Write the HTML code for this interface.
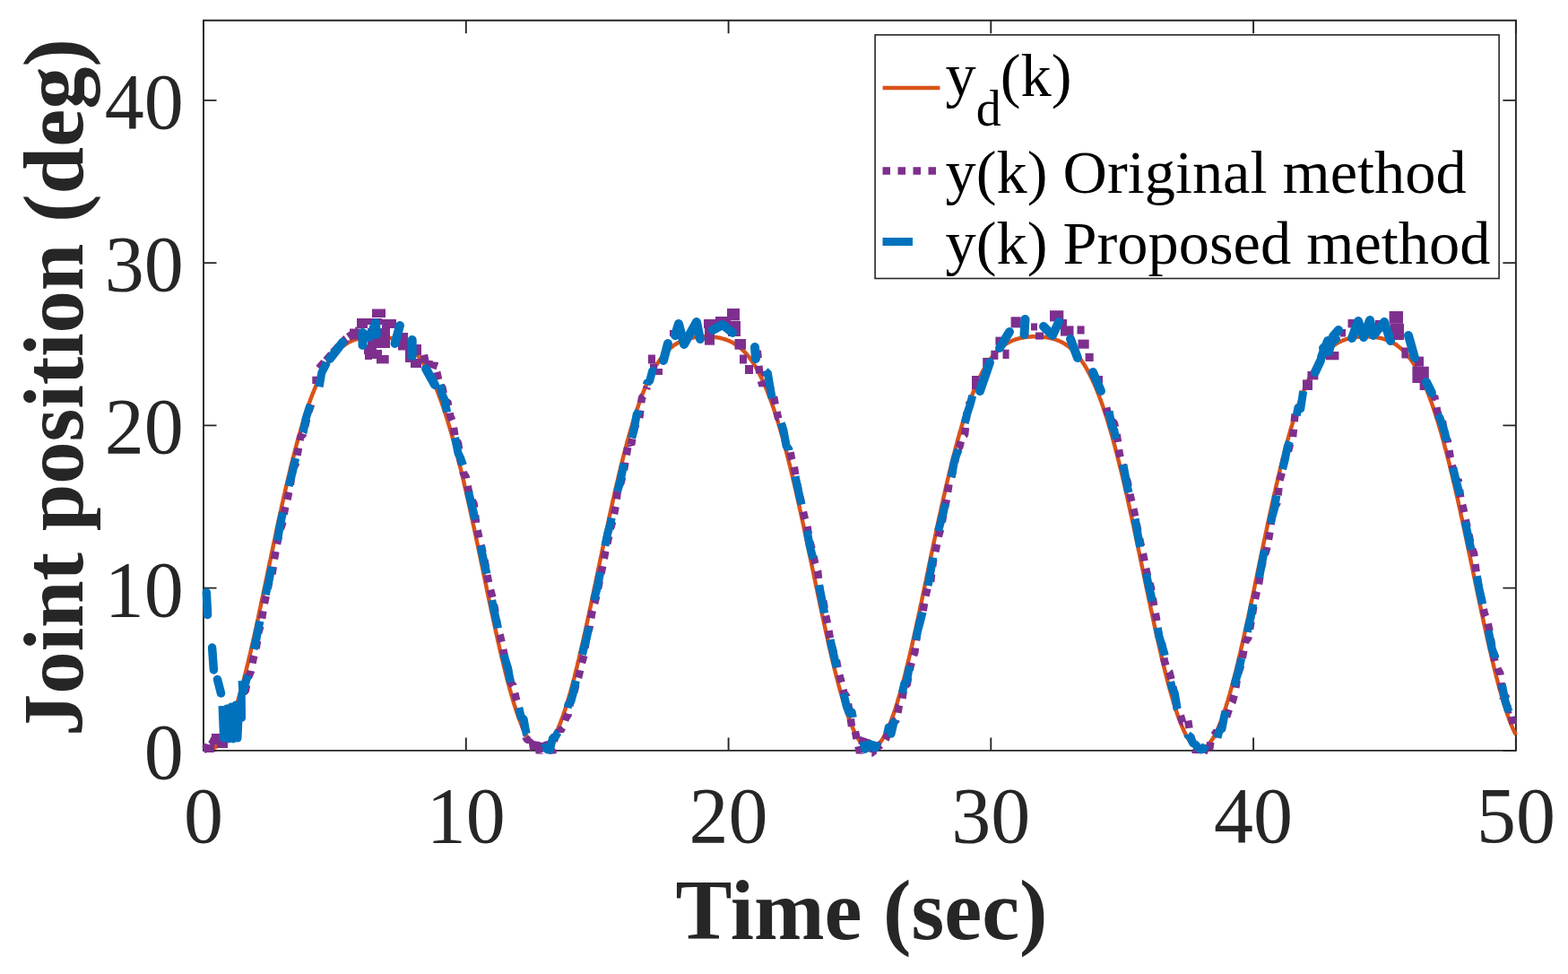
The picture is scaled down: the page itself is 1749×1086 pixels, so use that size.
<!DOCTYPE html>
<html><head><meta charset="utf-8"><title>Joint position plot</title>
<style>html,body{margin:0;padding:0;background:#fff;overflow:hidden}svg{display:block}</style></head>
<body><svg width="1749" height="1086" viewBox="0 0 1749 1086" font-family="'Liberation Serif', 'Times New Roman', serif"><rect x="0" y="0" width="1749" height="1086" fill="#fff"/>
<path d="M227.0,836.9 L1690.9,836.9 L1690.9,22.7 L227.0,22.7 Z" fill="none" stroke="#262626" stroke-width="1.9"/>
<path d="M227.0,836.9 L227.0,822.4 M227.0,22.7 L227.0,37.2 M519.8,836.9 L519.8,822.4 M519.8,22.7 L519.8,37.2 M812.6,836.9 L812.6,822.4 M812.6,22.7 L812.6,37.2 M1105.3,836.9 L1105.3,822.4 M1105.3,22.7 L1105.3,37.2 M1398.1,836.9 L1398.1,822.4 M1398.1,22.7 L1398.1,37.2 M1690.9,836.9 L1690.9,822.4 M1690.9,22.7 L1690.9,37.2 M227.0,836.9 L241.5,836.9 M1690.9,836.9 L1676.4,836.9 M227.0,655.6 L241.5,655.6 M1690.9,655.6 L1676.4,655.6 M227.0,474.4 L241.5,474.4 M1690.9,474.4 L1676.4,474.4 M227.0,293.1 L241.5,293.1 M1690.9,293.1 L1676.4,293.1 M227.0,111.9 L241.5,111.9 M1690.9,111.9 L1676.4,111.9" fill="none" stroke="#262626" stroke-width="1.9"/>
<path d="M227.0,831.2 L227.7,831.9 L228.5,832.4 L229.2,833.0 L229.9,833.4 L230.7,833.8 L231.4,834.2 L232.1,834.5 L232.9,834.7 L233.6,834.8 L234.3,834.9 L235.1,834.9 L235.8,834.8 L236.5,834.7 L237.2,834.6 L238.0,834.3 L238.7,834.0 L239.4,833.6 L240.2,833.2 L240.9,832.7 L241.6,832.1 L242.4,831.5 L243.1,830.8 L243.8,830.0 L244.6,829.2 L245.3,828.3 L246.0,827.4 L246.8,826.4 L247.5,825.3 L248.2,824.1 L249.0,823.0 L249.7,821.7 L250.4,820.4 L251.2,819.0 L251.9,817.6 L252.6,816.1 L253.4,814.5 L254.1,812.9 L254.8,811.3 L255.5,809.5 L256.3,807.7 L257.0,805.9 L257.7,804.0 L258.5,802.1 L259.2,800.1 L259.9,798.0 L260.7,795.9 L261.4,793.8 L262.1,791.6 L262.9,789.3 L263.6,787.0 L264.3,784.7 L265.1,782.3 L265.8,779.9 L266.5,777.4 L267.3,774.8 L268.0,772.3 L268.7,769.6 L269.5,767.0 L270.2,764.3 L270.9,761.5 L271.6,758.8 L272.4,755.9 L273.1,753.1 L273.8,750.2 L274.6,747.3 L275.3,744.3 L276.0,741.3 L276.8,738.3 L277.5,735.2 L278.2,732.1 L279.0,729.0 L279.7,725.9 L280.4,722.7 L281.2,719.5 L281.9,716.3 L282.6,713.0 L283.4,709.7 L284.1,706.4 L284.8,703.1 L285.6,699.8 L286.3,696.4 L287.0,693.1 L287.8,689.7 L288.5,686.3 L289.2,682.8 L289.9,679.4 L290.7,676.0 L291.4,672.5 L292.1,669.0 L292.9,665.6 L293.6,662.1 L294.3,658.6 L295.1,655.1 L295.8,651.6 L296.5,648.1 L297.3,644.6 L298.0,641.0 L298.7,637.5 L299.5,634.0 L300.2,630.5 L300.9,627.0 L301.7,623.5 L302.4,620.0 L303.1,616.5 L303.9,613.0 L304.6,609.5 L305.3,606.0 L306.1,602.5 L306.8,599.1 L307.5,595.6 L308.2,592.2 L309.0,588.7 L309.7,585.3 L310.4,581.9 L311.2,578.5 L311.9,575.1 L312.6,571.8 L313.4,568.5 L314.1,565.1 L314.8,561.8 L315.6,558.5 L316.3,555.3 L317.0,552.0 L317.8,548.8 L318.5,545.6 L319.2,542.4 L320.0,539.3 L320.7,536.2 L321.4,533.1 L322.2,530.0 L322.9,526.9 L323.6,523.9 L324.3,520.9 L325.1,517.9 L325.8,515.0 L326.5,512.1 L327.3,509.2 L328.0,506.4 L328.7,503.5 L329.5,500.7 L330.2,498.0 L330.9,495.2 L331.7,492.5 L332.4,489.9 L333.1,487.2 L333.9,484.6 L334.6,482.1 L335.3,479.5 L336.1,477.0 L336.8,474.6 L337.5,472.1 L338.3,469.7 L339.0,467.4 L339.7,465.0 L340.5,462.7 L341.2,460.5 L341.9,458.2 L342.6,456.1 L343.4,453.9 L344.1,451.8 L344.8,449.7 L345.6,447.6 L346.3,445.6 L347.0,443.6 L347.8,441.7 L348.5,439.8 L349.2,437.9 L350.0,436.1 L350.7,434.3 L351.4,432.5 L352.2,430.8 L352.9,429.1 L353.6,427.4 L354.4,425.8 L355.1,424.2 L355.8,422.6 L356.6,421.1 L357.3,419.6 L358.0,418.1 L358.8,416.7 L359.5,415.3 L360.2,413.9 L360.9,412.6 L361.7,411.3 L362.4,410.0 L363.1,408.7 L363.9,407.5 L364.6,406.4 L365.3,405.2 L366.1,404.1 L366.8,403.0 L367.5,401.9 L368.3,400.9 L369.0,399.9 L369.7,398.9 L370.5,398.0 L371.2,397.1 L371.9,396.2 L372.7,395.3 L373.4,394.4 L374.1,393.6 L374.9,392.8 L375.6,392.1 L376.3,391.3 L377.0,390.6 L377.8,389.9 L378.5,389.2 L379.2,388.6 L380.0,387.9 L380.7,387.3 L381.4,386.7 L382.2,386.2 L382.9,385.6 L383.6,385.1 L384.4,384.6 L385.1,384.1 L385.8,383.6 L386.6,383.2 L387.3,382.7 L388.0,382.3 L388.8,381.9 L389.5,381.5 L390.2,381.2 L391.0,380.8 L391.7,380.5 L392.4,380.1 L393.2,379.8 L393.9,379.5 L394.6,379.2 L395.3,379.0 L396.1,378.7 L396.8,378.5 L397.5,378.2 L398.3,378.0 L399.0,377.8 L399.7,377.6 L400.5,377.4 L401.2,377.2 L401.9,377.0 L402.7,376.9 L403.4,376.7 L404.1,376.6 L404.9,376.4 L405.6,376.3 L406.3,376.2 L407.1,376.1 L407.8,376.0 L408.5,375.9 L409.3,375.8 L410.0,375.7 L410.7,375.6 L411.5,375.5 L412.2,375.5 L412.9,375.4 L413.6,375.4 L414.4,375.3 L415.1,375.3 L415.8,375.3 L416.6,375.3 L417.3,375.2 L418.0,375.2 L418.8,375.2 L419.5,375.2 L420.2,375.2 L421.0,375.3 L421.7,375.3 L422.4,375.3 L423.2,375.3 L423.9,375.4 L424.6,375.4 L425.4,375.5 L426.1,375.5 L426.8,375.6 L427.6,375.7 L428.3,375.7 L429.0,375.8 L429.8,375.9 L430.5,376.0 L431.2,376.1 L431.9,376.3 L432.7,376.4 L433.4,376.5 L434.1,376.7 L434.9,376.8 L435.6,377.0 L436.3,377.1 L437.1,377.3 L437.8,377.5 L438.5,377.7 L439.3,377.9 L440.0,378.2 L440.7,378.4 L441.5,378.6 L442.2,378.9 L442.9,379.2 L443.7,379.4 L444.4,379.7 L445.1,380.1 L445.9,380.4 L446.6,380.7 L447.3,381.1 L448.0,381.4 L448.8,381.8 L449.5,382.2 L450.2,382.6 L451.0,383.1 L451.7,383.5 L452.4,384.0 L453.2,384.5 L453.9,385.0 L454.6,385.5 L455.4,386.0 L456.1,386.6 L456.8,387.2 L457.6,387.8 L458.3,388.4 L459.0,389.1 L459.8,389.7 L460.5,390.4 L461.2,391.1 L462.0,391.9 L462.7,392.6 L463.4,393.4 L464.2,394.2 L464.9,395.1 L465.6,395.9 L466.3,396.8 L467.1,397.7 L467.8,398.7 L468.5,399.7 L469.3,400.6 L470.0,401.7 L470.7,402.7 L471.5,403.8 L472.2,404.9 L472.9,406.1 L473.7,407.2 L474.4,408.4 L475.1,409.7 L475.9,410.9 L476.6,412.2 L477.3,413.6 L478.1,414.9 L478.8,416.3 L479.5,417.7 L480.3,419.2 L481.0,420.7 L481.7,422.2 L482.5,423.8 L483.2,425.3 L483.9,427.0 L484.6,428.6 L485.4,430.3 L486.1,432.1 L486.8,433.8 L487.6,435.6 L488.3,437.4 L489.0,439.3 L489.8,441.2 L490.5,443.1 L491.2,445.1 L492.0,447.1 L492.7,449.2 L493.4,451.2 L494.2,453.4 L494.9,455.5 L495.6,457.7 L496.4,459.9 L497.1,462.2 L497.8,464.5 L498.6,466.8 L499.3,469.1 L500.0,471.5 L500.7,474.0 L501.5,476.4 L502.2,478.9 L502.9,481.4 L503.7,484.0 L504.4,486.6 L505.1,489.2 L505.9,491.9 L506.6,494.6 L507.3,497.3 L508.1,500.0 L508.8,502.8 L509.5,505.6 L510.3,508.5 L511.0,511.4 L511.7,514.3 L512.5,517.2 L513.2,520.2 L513.9,523.2 L514.7,526.2 L515.4,529.2 L516.1,532.3 L516.9,535.4 L517.6,538.5 L518.3,541.7 L519.0,544.8 L519.8,548.0 L520.5,551.2 L521.2,554.5 L522.0,557.7 L522.7,561.0 L523.4,564.3 L524.2,567.6 L524.9,571.0 L525.6,574.3 L526.4,577.7 L527.1,581.1 L527.8,584.5 L528.6,587.9 L529.3,591.3 L530.0,594.7 L530.8,598.2 L531.5,601.7 L532.2,605.1 L533.0,608.6 L533.7,612.1 L534.4,615.6 L535.2,619.1 L535.9,622.6 L536.6,626.1 L537.3,629.6 L538.1,633.1 L538.8,636.6 L539.5,640.2 L540.3,643.7 L541.0,647.2 L541.7,650.7 L542.5,654.2 L543.2,657.7 L543.9,661.2 L544.7,664.7 L545.4,668.2 L546.1,671.6 L546.9,675.1 L547.6,678.5 L548.3,682.0 L549.1,685.4 L549.8,688.8 L550.5,692.2 L551.3,695.6 L552.0,699.0 L552.7,702.3 L553.4,705.6 L554.2,708.9 L554.9,712.2 L555.6,715.5 L556.4,718.7 L557.1,721.9 L557.8,725.1 L558.6,728.2 L559.3,731.4 L560.0,734.5 L560.8,737.5 L561.5,740.6 L562.2,743.6 L563.0,746.5 L563.7,749.5 L564.4,752.4 L565.2,755.2 L565.9,758.1 L566.6,760.8 L567.4,763.6 L568.1,766.3 L568.8,769.0 L569.6,771.6 L570.3,774.2 L571.0,776.7 L571.7,779.2 L572.5,781.7 L573.2,784.1 L573.9,786.5 L574.7,788.8 L575.4,791.0 L576.1,793.2 L576.9,795.4 L577.6,797.5 L578.3,799.6 L579.1,801.6 L579.8,803.5 L580.5,805.4 L581.3,807.3 L582.0,809.1 L582.7,810.8 L583.5,812.5 L584.2,814.1 L584.9,815.7 L585.7,817.2 L586.4,818.7 L587.1,820.0 L587.9,821.4 L588.6,822.6 L589.3,823.9 L590.0,825.0 L590.8,826.1 L591.5,827.1 L592.2,828.1 L593.0,829.0 L593.7,829.8 L594.4,830.6 L595.2,831.3 L595.9,832.0 L596.6,832.5 L597.4,833.1 L598.1,833.5 L598.8,833.9 L599.6,834.2 L600.3,834.5 L601.0,834.7 L601.8,834.8 L602.5,834.9 L603.2,834.9 L604.0,834.8 L604.7,834.7 L605.4,834.5 L606.2,834.3 L606.9,833.9 L607.6,833.6 L608.3,833.1 L609.1,832.6 L609.8,832.0 L610.5,831.4 L611.3,830.7 L612.0,829.9 L612.7,829.1 L613.5,828.2 L614.2,827.2 L614.9,826.2 L615.7,825.1 L616.4,824.0 L617.1,822.7 L617.9,821.5 L618.6,820.2 L619.3,818.8 L620.1,817.3 L620.8,815.8 L621.5,814.3 L622.3,812.6 L623.0,811.0 L623.7,809.2 L624.4,807.5 L625.2,805.6 L625.9,803.7 L626.6,801.8 L627.4,799.8 L628.1,797.7 L628.8,795.6 L629.6,793.4 L630.3,791.2 L631.0,789.0 L631.8,786.7 L632.5,784.3 L633.2,781.9 L634.0,779.4 L634.7,777.0 L635.4,774.4 L636.2,771.8 L636.9,769.2 L637.6,766.5 L638.4,763.8 L639.1,761.1 L639.8,758.3 L640.6,755.5 L641.3,752.6 L642.0,749.7 L642.7,746.8 L643.5,743.8 L644.2,740.8 L644.9,737.8 L645.7,734.7 L646.4,731.6 L647.1,728.5 L647.9,725.3 L648.6,722.2 L649.3,719.0 L650.1,715.7 L650.8,712.5 L651.5,709.2 L652.3,705.9 L653.0,702.6 L653.7,699.2 L654.5,695.9 L655.2,692.5 L655.9,689.1 L656.7,685.7 L657.4,682.3 L658.1,678.8 L658.9,675.4 L659.6,671.9 L660.3,668.5 L661.0,665.0 L661.8,661.5 L662.5,658.0 L663.2,654.5 L664.0,651.0 L664.7,647.5 L665.4,644.0 L666.2,640.5 L666.9,636.9 L667.6,633.4 L668.4,629.9 L669.1,626.4 L669.8,622.9 L670.6,619.4 L671.3,615.9 L672.0,612.4 L672.8,608.9 L673.5,605.4 L674.2,601.9 L675.0,598.5 L675.7,595.0 L676.4,591.6 L677.1,588.2 L677.9,584.8 L678.6,581.4 L679.3,578.0 L680.1,574.6 L680.8,571.2 L681.5,567.9 L682.3,564.6 L683.0,561.3 L683.7,558.0 L684.5,554.7 L685.2,551.5 L685.9,548.3 L686.7,545.1 L687.4,541.9 L688.1,538.8 L688.9,535.7 L689.6,532.6 L690.3,529.5 L691.1,526.4 L691.8,523.4 L692.5,520.4 L693.3,517.5 L694.0,514.5 L694.7,511.6 L695.4,508.7 L696.2,505.9 L696.9,503.1 L697.6,500.3 L698.4,497.5 L699.1,494.8 L699.8,492.1 L700.6,489.4 L701.3,486.8 L702.0,484.2 L702.8,481.6 L703.5,479.1 L704.2,476.6 L705.0,474.2 L705.7,471.7 L706.4,469.3 L707.2,467.0 L707.9,464.6 L708.6,462.4 L709.4,460.1 L710.1,457.9 L710.8,455.7 L711.6,453.5 L712.3,451.4 L713.0,449.3 L713.7,447.3 L714.5,445.3 L715.2,443.3 L715.9,441.4 L716.7,439.5 L717.4,437.6 L718.1,435.8 L718.9,434.0 L719.6,432.2 L720.3,430.5 L721.1,428.8 L721.8,427.1 L722.5,425.5 L723.3,423.9 L724.0,422.3 L724.7,420.8 L725.5,419.3 L726.2,417.9 L726.9,416.4 L727.7,415.0 L728.4,413.7 L729.1,412.3 L729.8,411.0 L730.6,409.8 L731.3,408.5 L732.0,407.3 L732.8,406.2 L733.5,405.0 L734.2,403.9 L735.0,402.8 L735.7,401.8 L736.4,400.7 L737.2,399.7 L737.9,398.8 L738.6,397.8 L739.4,396.9 L740.1,396.0 L740.8,395.1 L741.6,394.3 L742.3,393.5 L743.0,392.7 L743.8,391.9 L744.5,391.2 L745.2,390.5 L746.0,389.8 L746.7,389.1 L747.4,388.5 L748.1,387.8 L748.9,387.2 L749.6,386.7 L750.3,386.1 L751.1,385.5 L751.8,385.0 L752.5,384.5 L753.3,384.0 L754.0,383.6 L754.7,383.1 L755.5,382.7 L756.2,382.3 L756.9,381.9 L757.7,381.5 L758.4,381.1 L759.1,380.7 L759.9,380.4 L760.6,380.1 L761.3,379.8 L762.1,379.5 L762.8,379.2 L763.5,378.9 L764.3,378.7 L765.0,378.4 L765.7,378.2 L766.4,378.0 L767.2,377.7 L767.9,377.5 L768.6,377.3 L769.4,377.2 L770.1,377.0 L770.8,376.8 L771.6,376.7 L772.3,376.5 L773.0,376.4 L773.8,376.3 L774.5,376.2 L775.2,376.0 L776.0,375.9 L776.7,375.8 L777.4,375.8 L778.2,375.7 L778.9,375.6 L779.6,375.5 L780.4,375.5 L781.1,375.4 L781.8,375.4 L782.6,375.3 L783.3,375.3 L784.0,375.3 L784.7,375.3 L785.5,375.2 L786.2,375.2 L786.9,375.2 L787.7,375.2 L788.4,375.2 L789.1,375.3 L789.9,375.3 L790.6,375.3 L791.3,375.3 L792.1,375.4 L792.8,375.4 L793.5,375.5 L794.3,375.5 L795.0,375.6 L795.7,375.7 L796.5,375.8 L797.2,375.9 L797.9,375.9 L798.7,376.1 L799.4,376.2 L800.1,376.3 L800.8,376.4 L801.6,376.5 L802.3,376.7 L803.0,376.8 L803.8,377.0 L804.5,377.2 L805.2,377.4 L806.0,377.6 L806.7,377.8 L807.4,378.0 L808.2,378.2 L808.9,378.4 L809.6,378.7 L810.4,378.9 L811.1,379.2 L811.8,379.5 L812.6,379.8 L813.3,380.1 L814.0,380.4 L814.8,380.8 L815.5,381.1 L816.2,381.5 L817.0,381.9 L817.7,382.3 L818.4,382.7 L819.1,383.1 L819.9,383.6 L820.6,384.1 L821.3,384.6 L822.1,385.1 L822.8,385.6 L823.5,386.1 L824.3,386.7 L825.0,387.3 L825.7,387.9 L826.5,388.5 L827.2,389.2 L827.9,389.8 L828.7,390.5 L829.4,391.3 L830.1,392.0 L830.9,392.8 L831.6,393.6 L832.3,394.4 L833.1,395.2 L833.8,396.1 L834.5,397.0 L835.3,397.9 L836.0,398.8 L836.7,399.8 L837.4,400.8 L838.2,401.8 L838.9,402.9 L839.6,404.0 L840.4,405.1 L841.1,406.3 L841.8,407.4 L842.6,408.6 L843.3,409.9 L844.0,411.1 L844.8,412.4 L845.5,413.8 L846.2,415.1 L847.0,416.5 L847.7,418.0 L848.4,419.4 L849.2,420.9 L849.9,422.5 L850.6,424.0 L851.4,425.6 L852.1,427.2 L852.8,428.9 L853.5,430.6 L854.3,432.3 L855.0,434.1 L855.7,435.9 L856.5,437.7 L857.2,439.6 L857.9,441.5 L858.7,443.5 L859.4,445.4 L860.1,447.5 L860.9,449.5 L861.6,451.6 L862.3,453.7 L863.1,455.9 L863.8,458.1 L864.5,460.3 L865.3,462.5 L866.0,464.8 L866.7,467.2 L867.5,469.5 L868.2,471.9 L868.9,474.4 L869.7,476.8 L870.4,479.3 L871.1,481.9 L871.8,484.4 L872.6,487.0 L873.3,489.6 L874.0,492.3 L874.8,495.0 L875.5,497.7 L876.2,500.5 L877.0,503.3 L877.7,506.1 L878.4,509.0 L879.2,511.8 L879.9,514.8 L880.6,517.7 L881.4,520.7 L882.1,523.7 L882.8,526.7 L883.6,529.7 L884.3,532.8 L885.0,535.9 L885.8,539.0 L886.5,542.2 L887.2,545.3 L888.0,548.5 L888.7,551.8 L889.4,555.0 L890.1,558.3 L890.9,561.5 L891.6,564.8 L892.3,568.2 L893.1,571.5 L893.8,574.9 L894.5,578.2 L895.3,581.6 L896.0,585.0 L896.7,588.4 L897.5,591.9 L898.2,595.3 L898.9,598.8 L899.7,602.2 L900.4,605.7 L901.1,609.2 L901.9,612.7 L902.6,616.2 L903.3,619.7 L904.1,623.2 L904.8,626.7 L905.5,630.2 L906.2,633.7 L907.0,637.2 L907.7,640.7 L908.4,644.3 L909.2,647.8 L909.9,651.3 L910.6,654.8 L911.4,658.3 L912.1,661.8 L912.8,665.3 L913.6,668.7 L914.3,672.2 L915.0,675.7 L915.8,679.1 L916.5,682.6 L917.2,686.0 L918.0,689.4 L918.7,692.8 L919.4,696.1 L920.2,699.5 L920.9,702.8 L921.6,706.2 L922.4,709.5 L923.1,712.7 L923.8,716.0 L924.5,719.2 L925.3,722.4 L926.0,725.6 L926.7,728.7 L927.5,731.9 L928.2,735.0 L928.9,738.0 L929.7,741.0 L930.4,744.0 L931.1,747.0 L931.9,749.9 L932.6,752.8 L933.3,755.7 L934.1,758.5 L934.8,761.3 L935.5,764.0 L936.3,766.8 L937.0,769.4 L937.7,772.0 L938.5,774.6 L939.2,777.2 L939.9,779.6 L940.7,782.1 L941.4,784.5 L942.1,786.8 L942.8,789.1 L943.6,791.4 L944.3,793.6 L945.0,795.8 L945.8,797.9 L946.5,799.9 L947.2,801.9 L948.0,803.9 L948.7,805.8 L949.4,807.6 L950.2,809.4 L950.9,811.1 L951.6,812.8 L952.4,814.4 L953.1,815.9 L953.8,817.4 L954.6,818.9 L955.3,820.3 L956.0,821.6 L956.8,822.8 L957.5,824.0 L958.2,825.2 L959.0,826.3 L959.7,827.3 L960.4,828.2 L961.1,829.1 L961.9,830.0 L962.6,830.7 L963.3,831.4 L964.1,832.1 L964.8,832.6 L965.5,833.1 L966.3,833.6 L967.0,834.0 L967.7,834.3 L968.5,834.5 L969.2,834.7 L969.9,834.8 L970.7,834.9 L971.4,834.9 L972.1,834.8 L972.9,834.7 L973.6,834.5 L974.3,834.2 L975.1,833.9 L975.8,833.5 L976.5,833.0 L977.2,832.5 L978.0,831.9 L978.7,831.3 L979.4,830.5 L980.2,829.8 L980.9,828.9 L981.6,828.0 L982.4,827.0 L983.1,826.0 L983.8,824.9 L984.6,823.8 L985.3,822.5 L986.0,821.3 L986.8,819.9 L987.5,818.5 L988.2,817.1 L989.0,815.6 L989.7,814.0 L990.4,812.4 L991.2,810.7 L991.9,808.9 L992.6,807.2 L993.4,805.3 L994.1,803.4 L994.8,801.4 L995.5,799.4 L996.3,797.4 L997.0,795.2 L997.7,793.1 L998.5,790.9 L999.2,788.6 L999.9,786.3 L1000.7,783.9 L1001.4,781.5 L1002.1,779.0 L1002.9,776.5 L1003.6,774.0 L1004.3,771.4 L1005.1,768.8 L1005.8,766.1 L1006.5,763.4 L1007.3,760.6 L1008.0,757.8 L1008.7,755.0 L1009.5,752.1 L1010.2,749.2 L1010.9,746.3 L1011.7,743.3 L1012.4,740.3 L1013.1,737.3 L1013.8,734.2 L1014.6,731.1 L1015.3,728.0 L1016.0,724.8 L1016.8,721.6 L1017.5,718.4 L1018.2,715.2 L1019.0,711.9 L1019.7,708.7 L1020.4,705.4 L1021.2,702.0 L1021.9,698.7 L1022.6,695.3 L1023.4,691.9 L1024.1,688.6 L1024.8,685.1 L1025.6,681.7 L1026.3,678.3 L1027.0,674.8 L1027.8,671.4 L1028.5,667.9 L1029.2,664.4 L1029.9,660.9 L1030.7,657.4 L1031.4,653.9 L1032.1,650.4 L1032.9,646.9 L1033.6,643.4 L1034.3,639.9 L1035.1,636.4 L1035.8,632.8 L1036.5,629.3 L1037.3,625.8 L1038.0,622.3 L1038.7,618.8 L1039.5,615.3 L1040.2,611.8 L1040.9,608.3 L1041.7,604.8 L1042.4,601.4 L1043.1,597.9 L1043.9,594.5 L1044.6,591.0 L1045.3,587.6 L1046.1,584.2 L1046.8,580.8 L1047.5,577.4 L1048.2,574.0 L1049.0,570.7 L1049.7,567.4 L1050.4,564.0 L1051.2,560.7 L1051.9,557.5 L1052.6,554.2 L1053.4,551.0 L1054.1,547.8 L1054.8,544.6 L1055.6,541.4 L1056.3,538.3 L1057.0,535.1 L1057.8,532.0 L1058.5,529.0 L1059.2,525.9 L1060.0,522.9 L1060.7,519.9 L1061.4,517.0 L1062.2,514.0 L1062.9,511.1 L1063.6,508.3 L1064.4,505.4 L1065.1,502.6 L1065.8,499.8 L1066.5,497.1 L1067.3,494.3 L1068.0,491.7 L1068.7,489.0 L1069.5,486.4 L1070.2,483.8 L1070.9,481.2 L1071.7,478.7 L1072.4,476.2 L1073.1,473.8 L1073.9,471.3 L1074.6,468.9 L1075.3,466.6 L1076.1,464.3 L1076.8,462.0 L1077.5,459.7 L1078.3,457.5 L1079.0,455.3 L1079.7,453.2 L1080.5,451.1 L1081.2,449.0 L1081.9,447.0 L1082.6,445.0 L1083.4,443.0 L1084.1,441.1 L1084.8,439.2 L1085.6,437.3 L1086.3,435.5 L1087.0,433.7 L1087.8,431.9 L1088.5,430.2 L1089.2,428.5 L1090.0,426.8 L1090.7,425.2 L1091.4,423.6 L1092.2,422.1 L1092.9,420.6 L1093.6,419.1 L1094.4,417.6 L1095.1,416.2 L1095.8,414.8 L1096.6,413.5 L1097.3,412.1 L1098.0,410.8 L1098.8,409.6 L1099.5,408.3 L1100.2,407.1 L1100.9,406.0 L1101.7,404.8 L1102.4,403.7 L1103.1,402.6 L1103.9,401.6 L1104.6,400.6 L1105.3,399.6 L1106.1,398.6 L1106.8,397.7 L1107.5,396.8 L1108.3,395.9 L1109.0,395.0 L1109.7,394.2 L1110.5,393.4 L1111.2,392.6 L1111.9,391.8 L1112.7,391.1 L1113.4,390.4 L1114.1,389.7 L1114.9,389.0 L1115.6,388.4 L1116.3,387.7 L1117.1,387.1 L1117.8,386.6 L1118.5,386.0 L1119.2,385.5 L1120.0,384.9 L1120.7,384.4 L1121.4,383.9 L1122.2,383.5 L1122.9,383.0 L1123.6,382.6 L1124.4,382.2 L1125.1,381.8 L1125.8,381.4 L1126.6,381.0 L1127.3,380.7 L1128.0,380.4 L1128.8,380.0 L1129.5,379.7 L1130.2,379.4 L1131.0,379.1 L1131.7,378.9 L1132.4,378.6 L1133.2,378.4 L1133.9,378.1 L1134.6,377.9 L1135.3,377.7 L1136.1,377.5 L1136.8,377.3 L1137.5,377.1 L1138.3,377.0 L1139.0,376.8 L1139.7,376.7 L1140.5,376.5 L1141.2,376.4 L1141.9,376.3 L1142.7,376.1 L1143.4,376.0 L1144.1,375.9 L1144.9,375.8 L1145.6,375.7 L1146.3,375.7 L1147.1,375.6 L1147.8,375.5 L1148.5,375.5 L1149.3,375.4 L1150.0,375.4 L1150.7,375.3 L1151.5,375.3 L1152.2,375.3 L1152.9,375.3 L1153.6,375.2 L1154.4,375.2 L1155.1,375.2 L1155.8,375.2 L1156.6,375.2 L1157.3,375.3 L1158.0,375.3 L1158.8,375.3 L1159.5,375.3 L1160.2,375.4 L1161.0,375.4 L1161.7,375.5 L1162.4,375.6 L1163.2,375.6 L1163.9,375.7 L1164.6,375.8 L1165.4,375.9 L1166.1,376.0 L1166.8,376.1 L1167.6,376.2 L1168.3,376.3 L1169.0,376.4 L1169.8,376.6 L1170.5,376.7 L1171.2,376.9 L1171.9,377.0 L1172.7,377.2 L1173.4,377.4 L1174.1,377.6 L1174.9,377.8 L1175.6,378.0 L1176.3,378.2 L1177.1,378.5 L1177.8,378.7 L1178.5,379.0 L1179.3,379.3 L1180.0,379.5 L1180.7,379.8 L1181.5,380.2 L1182.2,380.5 L1182.9,380.8 L1183.7,381.2 L1184.4,381.6 L1185.1,381.9 L1185.9,382.4 L1186.6,382.8 L1187.3,383.2 L1188.1,383.7 L1188.8,384.1 L1189.5,384.6 L1190.2,385.1 L1191.0,385.7 L1191.7,386.2 L1192.4,386.8 L1193.2,387.4 L1193.9,388.0 L1194.6,388.6 L1195.4,389.3 L1196.1,390.0 L1196.8,390.7 L1197.6,391.4 L1198.3,392.1 L1199.0,392.9 L1199.8,393.7 L1200.5,394.5 L1201.2,395.4 L1202.0,396.2 L1202.7,397.1 L1203.4,398.0 L1204.2,399.0 L1204.9,400.0 L1205.6,401.0 L1206.3,402.0 L1207.1,403.1 L1207.8,404.2 L1208.5,405.3 L1209.3,406.4 L1210.0,407.6 L1210.7,408.8 L1211.5,410.1 L1212.2,411.4 L1212.9,412.7 L1213.7,414.0 L1214.4,415.4 L1215.1,416.8 L1215.9,418.2 L1216.6,419.7 L1217.3,421.2 L1218.1,422.7 L1218.8,424.3 L1219.5,425.9 L1220.3,427.5 L1221.0,429.2 L1221.7,430.9 L1222.5,432.6 L1223.2,434.4 L1223.9,436.2 L1224.6,438.1 L1225.4,439.9 L1226.1,441.8 L1226.8,443.8 L1227.6,445.8 L1228.3,447.8 L1229.0,449.9 L1229.8,451.9 L1230.5,454.1 L1231.2,456.2 L1232.0,458.4 L1232.7,460.6 L1233.4,462.9 L1234.2,465.2 L1234.9,467.5 L1235.6,469.9 L1236.4,472.3 L1237.1,474.8 L1237.8,477.2 L1238.6,479.7 L1239.3,482.3 L1240.0,484.8 L1240.8,487.4 L1241.5,490.1 L1242.2,492.8 L1242.9,495.5 L1243.7,498.2 L1244.4,501.0 L1245.1,503.7 L1245.9,506.6 L1246.6,509.4 L1247.3,512.3 L1248.1,515.2 L1248.8,518.2 L1249.5,521.1 L1250.3,524.1 L1251.0,527.2 L1251.7,530.2 L1252.5,533.3 L1253.2,536.4 L1253.9,539.5 L1254.7,542.7 L1255.4,545.9 L1256.1,549.1 L1256.9,552.3 L1257.6,555.5 L1258.3,558.8 L1259.0,562.1 L1259.8,565.4 L1260.5,568.7 L1261.2,572.1 L1262.0,575.4 L1262.7,578.8 L1263.4,582.2 L1264.2,585.6 L1264.9,589.0 L1265.6,592.4 L1266.4,595.9 L1267.1,599.3 L1267.8,602.8 L1268.6,606.3 L1269.3,609.7 L1270.0,613.2 L1270.8,616.7 L1271.5,620.2 L1272.2,623.7 L1273.0,627.3 L1273.7,630.8 L1274.4,634.3 L1275.2,637.8 L1275.9,641.3 L1276.6,644.8 L1277.3,648.3 L1278.1,651.8 L1278.8,655.4 L1279.5,658.9 L1280.3,662.3 L1281.0,665.8 L1281.7,669.3 L1282.5,672.8 L1283.2,676.2 L1283.9,679.7 L1284.7,683.1 L1285.4,686.5 L1286.1,689.9 L1286.9,693.3 L1287.6,696.7 L1288.3,700.1 L1289.1,703.4 L1289.8,706.7 L1290.5,710.0 L1291.3,713.3 L1292.0,716.5 L1292.7,719.7 L1293.5,722.9 L1294.2,726.1 L1294.9,729.3 L1295.6,732.4 L1296.4,735.5 L1297.1,738.5 L1297.8,741.5 L1298.6,744.5 L1299.3,747.5 L1300.0,750.4 L1300.8,753.3 L1301.5,756.2 L1302.2,759.0 L1303.0,761.8 L1303.7,764.5 L1304.4,767.2 L1305.2,769.9 L1305.9,772.5 L1306.6,775.0 L1307.4,777.6 L1308.1,780.0 L1308.8,782.5 L1309.6,784.9 L1310.3,787.2 L1311.0,789.5 L1311.7,791.8 L1312.5,794.0 L1313.2,796.1 L1313.9,798.2 L1314.7,800.2 L1315.4,802.2 L1316.1,804.2 L1316.9,806.1 L1317.6,807.9 L1318.3,809.7 L1319.1,811.4 L1319.8,813.0 L1320.5,814.7 L1321.3,816.2 L1322.0,817.7 L1322.7,819.1 L1323.5,820.5 L1324.2,821.8 L1324.9,823.0 L1325.7,824.2 L1326.4,825.4 L1327.1,826.4 L1327.9,827.4 L1328.6,828.4 L1329.3,829.3 L1330.0,830.1 L1330.8,830.8 L1331.5,831.5 L1332.2,832.2 L1333.0,832.7 L1333.7,833.2 L1334.4,833.7 L1335.2,834.0 L1335.9,834.3 L1336.6,834.6 L1337.4,834.7 L1338.1,834.9 L1338.8,834.9 L1339.6,834.9 L1340.3,834.8 L1341.0,834.7 L1341.8,834.4 L1342.5,834.2 L1343.2,833.8 L1344.0,833.4 L1344.7,832.9 L1345.4,832.4 L1346.2,831.8 L1346.9,831.1 L1347.6,830.4 L1348.3,829.6 L1349.1,828.8 L1349.8,827.9 L1350.5,826.9 L1351.3,825.8 L1352.0,824.7 L1352.7,823.6 L1353.5,822.3 L1354.2,821.1 L1354.9,819.7 L1355.7,818.3 L1356.4,816.8 L1357.1,815.3 L1357.9,813.7 L1358.6,812.1 L1359.3,810.4 L1360.1,808.7 L1360.8,806.9 L1361.5,805.0 L1362.3,803.1 L1363.0,801.1 L1363.7,799.1 L1364.5,797.0 L1365.2,794.9 L1365.9,792.7 L1366.6,790.5 L1367.4,788.2 L1368.1,785.9 L1368.8,783.5 L1369.6,781.1 L1370.3,778.6 L1371.0,776.1 L1371.8,773.6 L1372.5,771.0 L1373.2,768.3 L1374.0,765.7 L1374.7,762.9 L1375.4,760.2 L1376.2,757.4 L1376.9,754.5 L1377.6,751.7 L1378.4,748.8 L1379.1,745.8 L1379.8,742.8 L1380.6,739.8 L1381.3,736.8 L1382.0,733.7 L1382.7,730.6 L1383.5,727.5 L1384.2,724.3 L1384.9,721.1 L1385.7,717.9 L1386.4,714.7 L1387.1,711.4 L1387.9,708.1 L1388.6,704.8 L1389.3,701.5 L1390.1,698.1 L1390.8,694.8 L1391.5,691.4 L1392.3,688.0 L1393.0,684.6 L1393.7,681.2 L1394.5,677.7 L1395.2,674.3 L1395.9,670.8 L1396.7,667.3 L1397.4,663.8 L1398.1,660.4 L1398.9,656.9 L1399.6,653.4 L1400.3,649.8 L1401.0,646.3 L1401.8,642.8 L1402.5,639.3 L1403.2,635.8 L1404.0,632.3 L1404.7,628.8 L1405.4,625.2 L1406.2,621.7 L1406.9,618.2 L1407.6,614.7 L1408.4,611.2 L1409.1,607.8 L1409.8,604.3 L1410.6,600.8 L1411.3,597.4 L1412.0,593.9 L1412.8,590.5 L1413.5,587.0 L1414.2,583.6 L1415.0,580.2 L1415.7,576.9 L1416.4,573.5 L1417.2,570.1 L1417.9,566.8 L1418.6,563.5 L1419.3,560.2 L1420.1,556.9 L1420.8,553.7 L1421.5,550.4 L1422.3,547.2 L1423.0,544.1 L1423.7,540.9 L1424.5,537.7 L1425.2,534.6 L1425.9,531.5 L1426.7,528.5 L1427.4,525.4 L1428.1,522.4 L1428.9,519.4 L1429.6,516.5 L1430.3,513.6 L1431.1,510.7 L1431.8,507.8 L1432.5,505.0 L1433.3,502.1 L1434.0,499.4 L1434.7,496.6 L1435.4,493.9 L1436.2,491.2 L1436.9,488.6 L1437.6,486.0 L1438.4,483.4 L1439.1,480.8 L1439.8,478.3 L1440.6,475.8 L1441.3,473.4 L1442.0,470.9 L1442.8,468.6 L1443.5,466.2 L1444.2,463.9 L1445.0,461.6 L1445.7,459.4 L1446.4,457.2 L1447.2,455.0 L1447.9,452.8 L1448.6,450.7 L1449.4,448.7 L1450.1,446.6 L1450.8,444.6 L1451.6,442.7 L1452.3,440.7 L1453.0,438.9 L1453.7,437.0 L1454.5,435.2 L1455.2,433.4 L1455.9,431.6 L1456.7,429.9 L1457.4,428.2 L1458.1,426.6 L1458.9,425.0 L1459.6,423.4 L1460.3,421.8 L1461.1,420.3 L1461.8,418.8 L1462.5,417.4 L1463.3,416.0 L1464.0,414.6 L1464.7,413.2 L1465.5,411.9 L1466.2,410.6 L1466.9,409.4 L1467.7,408.1 L1468.4,406.9 L1469.1,405.8 L1469.9,404.6 L1470.6,403.5 L1471.3,402.5 L1472.0,401.4 L1472.8,400.4 L1473.5,399.4 L1474.2,398.4 L1475.0,397.5 L1475.7,396.6 L1476.4,395.7 L1477.2,394.9 L1477.9,394.0 L1478.6,393.2 L1479.4,392.5 L1480.1,391.7 L1480.8,391.0 L1481.6,390.3 L1482.3,389.6 L1483.0,388.9 L1483.8,388.3 L1484.5,387.6 L1485.2,387.0 L1486.0,386.5 L1486.7,385.9 L1487.4,385.4 L1488.1,384.8 L1488.9,384.4 L1489.6,383.9 L1490.3,383.4 L1491.1,383.0 L1491.8,382.5 L1492.5,382.1 L1493.3,381.7 L1494.0,381.3 L1494.7,381.0 L1495.5,380.6 L1496.2,380.3 L1496.9,380.0 L1497.7,379.7 L1498.4,379.4 L1499.1,379.1 L1499.9,378.8 L1500.6,378.6 L1501.3,378.3 L1502.1,378.1 L1502.8,377.9 L1503.5,377.7 L1504.3,377.5 L1505.0,377.3 L1505.7,377.1 L1506.4,376.9 L1507.2,376.8 L1507.9,376.6 L1508.6,376.5 L1509.4,376.4 L1510.1,376.2 L1510.8,376.1 L1511.6,376.0 L1512.3,375.9 L1513.0,375.8 L1513.8,375.7 L1514.5,375.7 L1515.2,375.6 L1516.0,375.5 L1516.7,375.5 L1517.4,375.4 L1518.2,375.4 L1518.9,375.3 L1519.6,375.3 L1520.4,375.3 L1521.1,375.2 L1521.8,375.2 L1522.6,375.2 L1523.3,375.2 L1524.0,375.2 L1524.7,375.2 L1525.5,375.3 L1526.2,375.3 L1526.9,375.3 L1527.7,375.4 L1528.4,375.4 L1529.1,375.4 L1529.9,375.5 L1530.6,375.6 L1531.3,375.6 L1532.1,375.7 L1532.8,375.8 L1533.5,375.9 L1534.3,376.0 L1535.0,376.1 L1535.7,376.2 L1536.5,376.3 L1537.2,376.5 L1537.9,376.6 L1538.7,376.7 L1539.4,376.9 L1540.1,377.1 L1540.9,377.2 L1541.6,377.4 L1542.3,377.6 L1543.0,377.8 L1543.8,378.0 L1544.5,378.3 L1545.2,378.5 L1546.0,378.8 L1546.7,379.0 L1547.4,379.3 L1548.2,379.6 L1548.9,379.9 L1549.6,380.2 L1550.4,380.5 L1551.1,380.9 L1551.8,381.2 L1552.6,381.6 L1553.3,382.0 L1554.0,382.4 L1554.8,382.8 L1555.5,383.3 L1556.2,383.7 L1557.0,384.2 L1557.7,384.7 L1558.4,385.2 L1559.1,385.8 L1559.9,386.3 L1560.6,386.9 L1561.3,387.5 L1562.1,388.1 L1562.8,388.7 L1563.5,389.4 L1564.3,390.1 L1565.0,390.8 L1565.7,391.5 L1566.5,392.2 L1567.2,393.0 L1567.9,393.8 L1568.7,394.6 L1569.4,395.5 L1570.1,396.4 L1570.9,397.3 L1571.6,398.2 L1572.3,399.2 L1573.1,400.1 L1573.8,401.1 L1574.5,402.2 L1575.3,403.3 L1576.0,404.4 L1576.7,405.5 L1577.4,406.6 L1578.2,407.8 L1578.9,409.0 L1579.6,410.3 L1580.4,411.6 L1581.1,412.9 L1581.8,414.2 L1582.6,415.6 L1583.3,417.0 L1584.0,418.4 L1584.8,419.9 L1585.5,421.4 L1586.2,423.0 L1587.0,424.5 L1587.7,426.1 L1588.4,427.8 L1589.2,429.5 L1589.9,431.2 L1590.6,432.9 L1591.4,434.7 L1592.1,436.5 L1592.8,438.4 L1593.6,440.2 L1594.3,442.2 L1595.0,444.1 L1595.7,446.1 L1596.5,448.1 L1597.2,450.2 L1597.9,452.3 L1598.7,454.4 L1599.4,456.6 L1600.1,458.8 L1600.9,461.0 L1601.6,463.3 L1602.3,465.6 L1603.1,467.9 L1603.8,470.3 L1604.5,472.7 L1605.3,475.2 L1606.0,477.6 L1606.7,480.1 L1607.5,482.7 L1608.2,485.3 L1608.9,487.9 L1609.7,490.5 L1610.4,493.2 L1611.1,495.9 L1611.8,498.6 L1612.6,501.4 L1613.3,504.2 L1614.0,507.0 L1614.8,509.9 L1615.5,512.8 L1616.2,515.7 L1617.0,518.7 L1617.7,521.6 L1618.4,524.6 L1619.2,527.7 L1619.9,530.7 L1620.6,533.8 L1621.4,536.9 L1622.1,540.1 L1622.8,543.2 L1623.6,546.4 L1624.3,549.6 L1625.0,552.8 L1625.8,556.1 L1626.5,559.3 L1627.2,562.6 L1628.0,565.9 L1628.7,569.3 L1629.4,572.6 L1630.1,576.0 L1630.9,579.3 L1631.6,582.7 L1632.3,586.1 L1633.1,589.6 L1633.8,593.0 L1634.5,596.4 L1635.3,599.9 L1636.0,603.4 L1636.7,606.8 L1637.5,610.3 L1638.2,613.8 L1638.9,617.3 L1639.7,620.8 L1640.4,624.3 L1641.1,627.8 L1641.9,631.3 L1642.6,634.9 L1643.3,638.4 L1644.1,641.9 L1644.8,645.4 L1645.5,648.9 L1646.3,652.4 L1647.0,655.9 L1647.7,659.4 L1648.4,662.9 L1649.2,666.4 L1649.9,669.9 L1650.6,673.3 L1651.4,676.8 L1652.1,680.2 L1652.8,683.7 L1653.6,687.1 L1654.3,690.5 L1655.0,693.9 L1655.8,697.3 L1656.5,700.6 L1657.2,703.9 L1658.0,707.2 L1658.7,710.5 L1659.4,713.8 L1660.2,717.0 L1660.9,720.3 L1661.6,723.5 L1662.4,726.6 L1663.1,729.8 L1663.8,732.9 L1664.5,736.0 L1665.3,739.0 L1666.0,742.0 L1666.7,745.0 L1667.5,748.0 L1668.2,750.9 L1668.9,753.8 L1669.7,756.6 L1670.4,759.4 L1671.1,762.2 L1671.9,764.9 L1672.6,767.6 L1673.3,770.3 L1674.1,772.9 L1674.8,775.5 L1675.5,778.0 L1676.3,780.5 L1677.0,782.9 L1677.7,785.3 L1678.5,787.6 L1679.2,789.9 L1679.9,792.1 L1680.7,794.3 L1681.4,796.5 L1682.1,798.5 L1682.8,800.6 L1683.6,802.6 L1684.3,804.5 L1685.0,806.4 L1685.8,808.2 L1686.5,810.0 L1687.2,811.7 L1688.0,813.3 L1688.7,814.9 L1689.4,816.4 L1690.2,817.9 L1690.9,819.3" fill="none" stroke="#D95319" stroke-width="4.5" stroke-linejoin="round"/>
<path d="M227.0,836.0 L229.9,834.8 L232.9,823.0 L235.8,824.5 L238.7,828.9 L241.6,830.0 L244.6,833.5 L247.5,825.6 L250.4,822.9 L253.4,822.1 L256.3,813.4 L259.2,807.8 L262.1,801.9 L265.1,798.9 L268.0,785.3 L270.9,772.3 L273.8,770.3 L276.8,755.4 L279.7,749.0 L282.6,734.3 L285.6,723.3 L288.5,704.6 L291.4,694.6 L294.3,675.7 L297.3,662.2 L300.2,649.3 L303.1,643.1 L306.1,622.4 L309.0,606.7 L311.9,592.2 L314.8,584.4 L317.8,567.2 L320.7,555.9 L323.6,542.5 L326.5,522.2 L329.5,518.1 L332.4,502.9 L335.3,487.0 L338.3,483.8 L341.2,470.9 L344.1,459.8 L347.0,450.8 L350.0,451.2" fill="none" stroke="#7E2F8E" stroke-width="8.5" stroke-dasharray="8.5 8.5" stroke-linejoin="bevel"/>
<path d="M472.9,395.7 L475.9,409.7 L478.8,403.4 L481.7,413.2 L484.6,404.7 L487.6,416.4 L490.5,429.3 L493.4,432.0 L496.4,447.7 L499.3,447.4 L502.2,463.8 L505.1,470.4 L508.1,491.0 L511.0,493.5 L513.9,514.5 L516.9,527.5 L519.8,532.1 L522.7,547.1 L525.6,556.0 L528.6,561.7 L531.5,586.5 L534.4,599.5 L537.3,610.6 L540.3,623.6 L543.2,640.0 L546.1,654.2 L549.1,665.1 L552.0,679.5 L554.9,698.4 L557.8,708.5 L560.8,721.1 L563.7,737.7 L566.6,745.0 L569.6,760.9 L572.5,764.4 L575.4,777.9 L578.3,787.9 L581.3,800.1 L584.2,805.7 L587.1,823.9 L590.0,825.5 L593.0,821.2 L595.9,839.6 L598.8,825.0 L601.8,839.6 L604.7,828.9 L607.6,839.6 L610.5,828.1 L613.5,831.2 L616.4,839.6 L619.3,816.8 L622.3,811.2 L625.2,815.0 L628.1,809.4 L631.0,801.0 L634.0,796.4 L636.9,777.4 L639.8,774.7 L642.7,761.8 L645.7,753.3 L648.6,740.7 L651.5,730.5 L654.5,708.8 L657.4,700.4 L660.3,683.1 L663.2,672.6 L666.2,661.0 L669.1,645.7 L672.0,632.4 L675.0,616.4 L677.9,603.8 L680.8,589.7 L683.7,579.9 L686.7,564.5 L689.6,541.9 L692.5,538.3 L695.4,527.6 L698.4,509.5 L701.3,492.6 L704.2,495.7 L707.2,478.7 L710.1,471.1 L713.0,468.9 L715.9,443.6 L718.9,440.2 L721.8,431.4" fill="none" stroke="#7E2F8E" stroke-width="8.5" stroke-dasharray="8.5 8.5" stroke-linejoin="bevel"/>
<path d="M844.8,391.0 L847.7,421.0 L850.6,430.3 L853.5,414.8 L856.5,423.6 L859.4,433.3 L862.3,439.1 L865.3,453.8 L868.2,466.6 L871.1,467.6 L874.0,482.1 L877.0,495.9 L879.9,496.0 L882.8,510.4 L885.8,520.3 L888.7,538.6 L891.6,549.9 L894.5,564.2 L897.5,577.1 L900.4,586.8 L903.3,604.1 L906.2,614.1 L909.2,628.3 L912.1,636.7 L915.0,662.2 L918.0,668.5 L920.9,685.6 L923.8,698.9 L926.7,717.1 L929.7,726.6 L932.6,734.7 L935.5,749.7 L938.5,760.4 L941.4,772.8 L944.3,776.4 L947.2,791.1 L950.2,811.0 L953.1,811.1 L956.0,825.9 L959.0,839.6 L961.9,828.5 L964.8,819.5 L967.7,831.6 L970.7,839.6 L973.6,839.6 L976.5,826.1 L979.4,832.4 L982.4,831.0 L985.3,828.6 L988.2,823.7 L991.2,813.7 L994.1,809.4 L997.0,804.5 L999.9,803.1 L1002.9,786.6 L1005.8,782.6 L1008.7,764.7 L1011.7,763.4 L1014.6,747.4 L1017.5,734.9 L1020.4,727.0 L1023.4,703.4 L1026.3,691.0 L1029.2,683.9 L1032.1,666.0 L1035.1,653.3 L1038.0,649.3 L1040.9,625.6 L1043.9,612.6 L1046.8,598.1 L1049.7,588.4 L1052.6,572.0 L1055.6,558.3 L1058.5,539.9 L1061.4,530.5 L1064.4,519.6 L1067.3,500.5 L1070.2,498.8 L1073.1,487.1 L1076.1,484.8 L1079.0,455.0 L1081.9,448.7" fill="none" stroke="#7E2F8E" stroke-width="8.5" stroke-dasharray="8.5 8.5" stroke-linejoin="bevel"/>
<path d="M1234.2,454.5 L1237.1,468.2 L1240.0,469.2 L1242.9,471.7 L1245.9,485.7 L1248.8,506.3 L1251.7,517.4 L1254.7,527.8 L1257.6,537.0 L1260.5,551.9 L1263.4,563.5 L1266.4,576.7 L1269.3,592.6 L1272.2,605.6 L1275.2,618.7 L1278.1,633.8 L1281.0,645.9 L1283.9,655.4 L1286.9,673.5 L1289.8,689.1 L1292.7,708.5 L1295.6,714.5 L1298.6,735.6 L1301.5,746.2 L1304.4,749.4 L1307.4,761.1 L1310.3,775.2 L1313.2,792.3 L1316.1,795.4 L1319.1,805.5 L1322.0,805.7 L1324.9,802.1 L1327.9,820.1 L1330.8,831.6 L1333.7,838.3 L1336.6,833.0 L1339.6,835.6 L1342.5,839.6 L1345.4,833.6 L1348.3,839.6 L1351.3,822.5 L1354.2,819.7 L1357.1,815.5 L1360.1,820.1 L1363.0,807.8 L1365.9,804.2 L1368.8,797.3 L1371.8,787.9 L1374.7,782.3 L1377.6,772.2 L1380.6,752.0 L1383.5,744.1 L1386.4,730.4 L1389.3,715.0 L1392.3,711.4 L1395.2,694.7 L1398.1,677.8 L1401.0,663.2 L1404.0,651.8 L1406.9,633.0 L1409.8,621.6 L1412.8,612.5 L1415.7,597.6 L1418.6,577.8 L1421.5,565.4 L1424.5,561.1 L1427.4,535.5 L1430.3,525.7 L1433.3,510.1 L1436.2,506.0 L1439.1,494.3 L1442.0,488.0 L1445.0,456.9 L1447.9,462.8" fill="none" stroke="#7E2F8E" stroke-width="8.5" stroke-dasharray="8.5 8.5" stroke-linejoin="bevel"/>
<path d="M1597.2,444.5 L1600.1,441.6 L1603.1,458.4 L1606.0,466.9 L1608.9,469.1 L1611.8,486.9 L1614.8,491.6 L1617.7,509.7 L1620.6,522.4 L1623.6,536.9 L1626.5,534.5 L1629.4,556.1 L1632.3,567.3 L1635.3,581.9 L1638.2,595.0 L1641.1,609.3 L1644.1,617.1 L1647.0,641.1 L1649.9,656.9 L1652.8,669.1 L1655.8,684.0 L1658.7,690.7 L1661.6,703.8 L1664.5,723.0 L1667.5,737.3 L1670.4,745.8 L1673.3,750.6 L1676.3,778.8 L1679.2,775.2 L1682.1,792.2 L1685.0,790.8 L1688.0,810.0 L1690.9,813.0" fill="none" stroke="#7E2F8E" stroke-width="8.5" stroke-dasharray="8.5 8.5" stroke-linejoin="bevel"/>
<rect x="236" y="818" width="10.0" height="12.0" fill="#7E2F8E"/>
<rect x="242" y="822" width="12.0" height="12.0" fill="#7E2F8E"/>
<rect x="229" y="831" width="10.0" height="8.0" fill="#7E2F8E"/>
<rect x="415" y="344.5" width="15.0" height="9.5" fill="#7E2F8E"/>
<rect x="398" y="355" width="12.0" height="11.0" fill="#7E2F8E"/>
<rect x="410" y="355" width="16.0" height="7.0" fill="#7E2F8E"/>
<rect x="426" y="356" width="16.0" height="10.0" fill="#7E2F8E"/>
<rect x="390" y="366.5" width="12.0" height="12.0" fill="#7E2F8E"/>
<rect x="410" y="366" width="25.0" height="22.0" fill="#7E2F8E"/>
<rect x="406" y="384.5" width="14.0" height="10.5" fill="#7E2F8E"/>
<rect x="414" y="390" width="12.0" height="10.0" fill="#7E2F8E"/>
<rect x="420" y="396" width="13.7" height="9.4" fill="#7E2F8E"/>
<rect x="407" y="393" width="8.0" height="8.0" fill="#7E2F8E"/>
<rect x="444" y="371" width="11.0" height="19.5" fill="#7E2F8E"/>
<rect x="452" y="390" width="10.0" height="14.0" fill="#7E2F8E"/>
<rect x="460" y="384" width="10.0" height="12.0" fill="#7E2F8E"/>
<rect x="458" y="400" width="12.0" height="10.0" fill="#7E2F8E"/>
<rect x="348.3" y="419.7" width="10.1" height="8.3" fill="#7E2F8E"/>
<rect x="811" y="344" width="14.0" height="13.4" fill="#7E2F8E"/>
<rect x="785" y="356" width="15.0" height="10.0" fill="#7E2F8E"/>
<rect x="798" y="353" width="17.0" height="9.0" fill="#7E2F8E"/>
<rect x="812" y="358" width="14.0" height="17.0" fill="#7E2F8E"/>
<rect x="786" y="366" width="11.0" height="18.7" fill="#7E2F8E"/>
<rect x="819.5" y="378" width="12.5" height="11.7" fill="#7E2F8E"/>
<rect x="825" y="395.5" width="8.0" height="10.0" fill="#7E2F8E"/>
<rect x="831" y="407" width="9.0" height="10.0" fill="#7E2F8E"/>
<rect x="723" y="395.5" width="8.0" height="10.0" fill="#7E2F8E"/>
<rect x="747" y="368" width="6.0" height="7.0" fill="#7E2F8E"/>
<rect x="725" y="405.5" width="8.0" height="6.5" fill="#7E2F8E"/>
<rect x="731" y="411" width="8.0" height="7.0" fill="#7E2F8E"/>
<rect x="1127.6" y="353.3" width="11.1" height="12.1" fill="#7E2F8E"/>
<rect x="1150" y="360.4" width="7.0" height="8.1" fill="#7E2F8E"/>
<rect x="1171" y="346.2" width="15.3" height="12.2" fill="#7E2F8E"/>
<rect x="1183" y="363.4" width="14.5" height="11.2" fill="#7E2F8E"/>
<rect x="1201.5" y="363.4" width="8.1" height="9.1" fill="#7E2F8E"/>
<rect x="1202.5" y="378.6" width="12.2" height="10.1" fill="#7E2F8E"/>
<rect x="1210.6" y="393.8" width="9.1" height="9.2" fill="#7E2F8E"/>
<rect x="1118.5" y="389.7" width="7.1" height="10.3" fill="#7E2F8E"/>
<rect x="1110.4" y="375.6" width="7.1" height="9.1" fill="#7E2F8E"/>
<rect x="1105.3" y="390.8" width="8.1" height="10.1" fill="#7E2F8E"/>
<rect x="1096.2" y="398.9" width="10.1" height="10.1" fill="#7E2F8E"/>
<rect x="1084" y="419" width="8.0" height="15.3" fill="#7E2F8E"/>
<rect x="1155" y="370.5" width="9.0" height="8.1" fill="#7E2F8E"/>
<rect x="1223.8" y="419" width="6.2" height="8.0" fill="#7E2F8E"/>
<rect x="1176" y="356" width="14.0" height="10.0" fill="#7E2F8E"/>
<rect x="1549.6" y="347" width="15.4" height="13.8" fill="#7E2F8E"/>
<rect x="1550.5" y="360.8" width="15.5" height="18.2" fill="#7E2F8E"/>
<rect x="1503.5" y="356" width="8.5" height="9.4" fill="#7E2F8E"/>
<rect x="1519" y="360.8" width="6.6" height="11.0" fill="#7E2F8E"/>
<rect x="1534" y="357" width="6.0" height="8.4" fill="#7E2F8E"/>
<rect x="1495" y="367" width="6.0" height="8.5" fill="#7E2F8E"/>
<rect x="1478.7" y="392" width="14.7" height="9.3" fill="#7E2F8E"/>
<rect x="1458.4" y="414" width="12.0" height="9.4" fill="#7E2F8E"/>
<rect x="1453" y="423.4" width="11.0" height="11.6" fill="#7E2F8E"/>
<rect x="1563.4" y="387.5" width="7.4" height="12.0" fill="#7E2F8E"/>
<rect x="1578" y="397.6" width="10.0" height="11.1" fill="#7E2F8E"/>
<rect x="1575.4" y="408.7" width="18.4" height="18.3" fill="#7E2F8E"/>
<rect x="1583.6" y="427" width="5.4" height="8.0" fill="#7E2F8E"/>
<path d="M356,411 L372,393 L386,378 L400,368" fill="none" stroke="#7E2F8E" stroke-width="9.5" stroke-dasharray="9 3"/>
<path d="M230.3,660.5 L231.6,685.5" stroke="#0072BD" stroke-width="9.5" stroke-linecap="round"/>
<path d="M236.6,722 L238.4,747" stroke="#0072BD" stroke-width="9.5" stroke-linecap="round"/>
<path d="M242.5,757.5 L246.5,773" stroke="#0072BD" stroke-width="9.5" stroke-linecap="round"/>
<path d="M248,787 L249.5,823 L253,790 L255,824 L258,788 L260,824 L263,786 L265,823 L266.5,790" fill="none" stroke="#0072BD" stroke-width="9" stroke-linejoin="round"/>
<path d="M269.8,800.5 L269.5,774" stroke="#0072BD" stroke-width="8.5" stroke-linecap="round"/>
<path d="M270.0,759.0 L270.9,771.6 L273.8,762.0 L276.8,751.8 L279.7,740.3 L282.6,726.3 L285.6,714.1 L288.5,699.3 L291.4,686.3 L294.3,675.0 L297.3,658.4 L300.2,647.0 L303.1,631.6 L306.1,616.9 L309.0,606.4 L311.9,588.3 L314.8,574.5 L317.8,561.8 L320.7,549.2 L323.6,536.4 L326.5,525.5 L329.5,511.7 L332.4,501.0 L335.3,488.0 L338.3,481.6 L341.2,466.7 L344.1,457.3 L347.0,449.4 L350.0,442.3 L352.9,429.6 L355.8,433.5 L358.8,415.5 L361.7,410.2 L364.6,404.1" fill="none" stroke="#0072BD" stroke-width="9" stroke-dasharray="32 30" stroke-linejoin="round"/>
<path d="M490.5,429.0 L493.4,440.0 L496.4,447.0 L499.3,463.9 L502.2,468.2 L505.1,479.0 L508.1,490.3 L511.0,505.2 L513.9,511.2 L516.9,520.0 L519.8,533.8 L522.7,548.8 L525.6,560.6 L528.6,572.5 L531.5,593.1 L534.4,601.7 L537.3,614.4 L540.3,628.3 L543.2,640.5 L546.1,655.6 L549.1,671.0 L552.0,684.8 L554.9,697.4 L557.8,713.3 L560.8,725.2 L563.7,735.6 L566.6,745.0 L569.6,761.2 L572.5,771.7 L575.4,781.1 L578.3,786.9 L581.3,799.7 L584.2,801.9 L587.1,818.0 L590.0,820.8 L593.0,825.9 L595.9,825.2 L598.8,826.7 L601.8,836.0 L604.7,836.0 L607.6,832.9 L610.5,836.0 L613.5,836.0 L616.4,823.2 L619.3,821.7 L622.3,816.7 L625.2,814.5 L628.1,801.9 L631.0,798.5 L634.0,785.6 L636.9,782.0 L639.8,771.4 L642.7,757.8 L645.7,748.3 L648.6,733.3 L651.5,721.6 L654.5,711.0 L657.4,695.7 L660.3,682.9 L663.2,666.7 L666.2,655.6 L669.1,641.2 L672.0,624.0 L675.0,608.0 L677.9,594.4 L680.8,584.4 L683.7,570.5 L686.7,554.3 L689.6,544.8 L692.5,534.2 L695.4,519.2 L698.4,506.4 L701.3,498.6 L704.2,490.3 L707.2,479.5 L710.1,462.2 L713.0,458.2 L715.9,446.9 L718.9,436.9 L721.8,427.0 L724.7,424.6 L727.7,413.3 L730.6,415.2" fill="none" stroke="#0072BD" stroke-width="9" stroke-dasharray="32 30" stroke-linejoin="round"/>
<path d="M853.5,413.5 L856.5,416.5 L859.4,434.0 L862.3,450.2 L865.3,454.5 L868.2,464.6 L871.1,471.5 L874.0,479.8 L877.0,496.9 L879.9,501.1 L882.8,517.7 L885.8,525.1 L888.7,538.6 L891.6,552.0 L894.5,564.6 L897.5,579.1 L900.4,592.9 L903.3,608.8 L906.2,619.6 L909.2,630.2 L912.1,644.0 L915.0,659.3 L918.0,674.3 L920.9,690.7 L923.8,700.0 L926.7,716.1 L929.7,728.9 L932.6,741.7 L935.5,752.6 L938.5,765.1 L941.4,774.8 L944.3,787.6 L947.2,794.8 L950.2,794.0 L953.1,809.6 L956.0,816.9 L959.0,819.2 L961.9,822.9 L964.8,835.4 L967.7,833.7 L970.7,829.5 L973.6,833.5 L976.5,833.8 L979.4,825.0 L982.4,833.9 L985.3,826.6 L988.2,824.9 L991.2,810.9 L994.1,818.2 L997.0,805.8 L999.9,796.9 L1002.9,784.3 L1005.8,774.9 L1008.7,762.6 L1011.7,758.7 L1014.6,741.7 L1017.5,731.7 L1020.4,719.8 L1023.4,704.3 L1026.3,693.7 L1029.2,682.2 L1032.1,665.1 L1035.1,653.2 L1038.0,637.5 L1040.9,621.5 L1043.9,607.6 L1046.8,591.2 L1049.7,580.9 L1052.6,570.2 L1055.6,555.4 L1058.5,542.9 L1061.4,531.2 L1064.4,514.9 L1067.3,506.0 L1070.2,498.8 L1073.1,479.8 L1076.1,472.1 L1079.0,460.5 L1081.9,452.1 L1084.8,441.0 L1087.8,435.4" fill="none" stroke="#0072BD" stroke-width="9" stroke-dasharray="32 30" stroke-linejoin="round"/>
<path d="M1237.1,458.5 L1240.0,474.4 L1242.9,480.1 L1245.9,495.8 L1248.8,505.8 L1251.7,510.8 L1254.7,527.6 L1257.6,543.3 L1260.5,555.3 L1263.4,567.7 L1266.4,579.5 L1269.3,596.7 L1272.2,613.0 L1275.2,624.2 L1278.1,637.7 L1281.0,651.6 L1283.9,663.4 L1286.9,679.1 L1289.8,691.8 L1292.7,708.8 L1295.6,718.0 L1298.6,728.0 L1301.5,742.8 L1304.4,755.6 L1307.4,766.8 L1310.3,772.7 L1313.2,790.0 L1316.1,796.5 L1319.1,802.5 L1322.0,808.5 L1324.9,819.5 L1327.9,821.7 L1330.8,828.8 L1333.7,830.2 L1336.6,833.9 L1339.6,836.0 L1342.5,835.0 L1345.4,829.6 L1348.3,836.0 L1351.3,830.8 L1354.2,822.7 L1357.1,825.7 L1360.1,814.6 L1363.0,812.6 L1365.9,797.2 L1368.8,785.4 L1371.8,777.7 L1374.7,774.2 L1377.6,761.1 L1380.6,751.4 L1383.5,739.6 L1386.4,724.3 L1389.3,717.3 L1392.3,699.4 L1395.2,688.1 L1398.1,671.6 L1401.0,660.0 L1404.0,647.5 L1406.9,631.7 L1409.8,616.7 L1412.8,604.1 L1415.7,589.3 L1418.6,577.6 L1421.5,567.6 L1424.5,548.0 L1427.4,535.5 L1430.3,524.2 L1433.3,512.3 L1436.2,497.9 L1439.1,491.1 L1442.0,481.3 L1445.0,469.4 L1447.9,454.5 L1450.8,455.7 L1453.7,436.0 L1456.7,436.3 L1459.6,431.4" fill="none" stroke="#0072BD" stroke-width="9" stroke-dasharray="32 30" stroke-linejoin="round"/>
<path d="M1603.1,462.3 L1606.0,465.7 L1608.9,474.0 L1611.8,483.0 L1614.8,497.7 L1617.7,506.0 L1620.6,520.7 L1623.6,533.3 L1626.5,544.6 L1629.4,556.7 L1632.3,573.0 L1635.3,586.4 L1638.2,600.0 L1641.1,613.5 L1644.1,629.5 L1647.0,639.9 L1649.9,656.6 L1652.8,669.0 L1655.8,685.2 L1658.7,696.6 L1661.6,709.8 L1664.5,724.3 L1667.5,731.7 L1670.4,747.1 L1673.3,755.2 L1676.3,767.8 L1679.2,782.3 L1682.1,791.1 L1685.0,797.1 L1688.0,806.1 L1690.9,813.1" fill="none" stroke="#0072BD" stroke-width="9" stroke-dasharray="32 30" stroke-linejoin="round"/>
<path d="M368,400 L382,382" fill="none" stroke="#0072BD" stroke-width="10" stroke-linecap="round" stroke-linejoin="round"/>
<path d="M404.5,385 L404.5,371 L411,376" fill="none" stroke="#0072BD" stroke-width="10" stroke-linecap="round" stroke-linejoin="round"/>
<path d="M413,375 L419,360 L420,373" fill="none" stroke="#0072BD" stroke-width="10" stroke-linecap="round" stroke-linejoin="round"/>
<path d="M440.5,383 L446,363" fill="none" stroke="#0072BD" stroke-width="10" stroke-linecap="round" stroke-linejoin="round"/>
<path d="M459.7,397 L459.7,379" fill="none" stroke="#0072BD" stroke-width="10" stroke-linecap="round" stroke-linejoin="round"/>
<path d="M475,411 L485,429" fill="none" stroke="#0072BD" stroke-width="10" stroke-linecap="round" stroke-linejoin="round"/>
<path d="M740,402 L745,383" fill="none" stroke="#0072BD" stroke-width="10" stroke-linecap="round" stroke-linejoin="round"/>
<path d="M753,374 L757,361 L763,384 L777,359 L781,378" fill="none" stroke="#0072BD" stroke-width="10" stroke-linecap="round" stroke-linejoin="round"/>
<path d="M795,368 L806,362 L817,371" fill="none" stroke="#0072BD" stroke-width="10" stroke-linecap="round" stroke-linejoin="round"/>
<path d="M842,387 L843,400" fill="none" stroke="#0072BD" stroke-width="10" stroke-linecap="round" stroke-linejoin="round"/>
<path d="M1093,436 L1104,404" fill="none" stroke="#0072BD" stroke-width="10" stroke-linecap="round" stroke-linejoin="round"/>
<path d="M1115,388 L1126,370" fill="none" stroke="#0072BD" stroke-width="10" stroke-linecap="round" stroke-linejoin="round"/>
<path d="M1142.5,373 L1143.5,356" fill="none" stroke="#0072BD" stroke-width="10" stroke-linecap="round" stroke-linejoin="round"/>
<path d="M1164,364 L1174,374 L1181,359" fill="none" stroke="#0072BD" stroke-width="10" stroke-linecap="round" stroke-linejoin="round"/>
<path d="M1194,378 L1202,399" fill="none" stroke="#0072BD" stroke-width="10" stroke-linecap="round" stroke-linejoin="round"/>
<path d="M1219,415 L1228,436" fill="none" stroke="#0072BD" stroke-width="10" stroke-linecap="round" stroke-linejoin="round"/>
<path d="M1467,415 L1473,402" fill="none" stroke="#0072BD" stroke-width="10" stroke-linecap="round" stroke-linejoin="round"/>
<path d="M1474,398 L1481,380" fill="none" stroke="#0072BD" stroke-width="10" stroke-linecap="round" stroke-linejoin="round"/>
<path d="M1482,392 L1487,375 L1493,368" fill="none" stroke="#0072BD" stroke-width="10" stroke-linecap="round" stroke-linejoin="round"/>
<path d="M1476,388 L1490,378" fill="none" stroke="#0072BD" stroke-width="10" stroke-linecap="round" stroke-linejoin="round"/>
<path d="M1508,377 L1515,358 L1521,376 L1528,357 L1532,374 L1544,359 L1551,380" fill="none" stroke="#0072BD" stroke-width="10" stroke-linecap="round" stroke-linejoin="round"/>
<path d="M1571,374 L1578,399" fill="none" stroke="#0072BD" stroke-width="10" stroke-linecap="round" stroke-linejoin="round"/>
<path d="M1591,426 L1597,438" fill="none" stroke="#0072BD" stroke-width="10" stroke-linecap="round" stroke-linejoin="round"/>
<text x="227.0" y="939" font-size="88" text-anchor="middle" fill="#262626">0</text>
<text x="519.8" y="939" font-size="88" text-anchor="middle" fill="#262626">10</text>
<text x="812.6" y="939" font-size="88" text-anchor="middle" fill="#262626">20</text>
<text x="1105.3" y="939" font-size="88" text-anchor="middle" fill="#262626">30</text>
<text x="1398.1" y="939" font-size="88" text-anchor="middle" fill="#262626">40</text>
<text x="1690.9" y="939" font-size="88" text-anchor="middle" fill="#262626">50</text>
<text x="204.7" y="867.9" font-size="88" text-anchor="end" fill="#262626">0</text>
<text x="204.7" y="686.6" font-size="88" text-anchor="end" fill="#262626">10</text>
<text x="204.7" y="505.4" font-size="88" text-anchor="end" fill="#262626">20</text>
<text x="204.7" y="324.1" font-size="88" text-anchor="end" fill="#262626">30</text>
<text x="204.7" y="142.9" font-size="88" text-anchor="end" fill="#262626">40</text>
<text x="961" y="1047" font-size="94.4" font-weight="bold" text-anchor="middle" fill="#262626">Time (sec)</text>
<text transform="translate(91.5,432) rotate(-90)" x="0" y="0" font-size="94.6" font-weight="bold" text-anchor="middle" fill="#262626">Joint position (deg)</text>
<rect x="976.1" y="38.9" width="696.0" height="271.6" fill="#fff" stroke="#262626" stroke-width="1.6"/>
<path d="M984.6,98.0 L1048.4,98.0" stroke="#D95319" stroke-width="4.6"/>
<path d="M984.5,190.45 L1048.5,190.45" stroke="#7E2F8E" stroke-width="8.5" stroke-dasharray="8.5 8.5"/>
<path d="M984.5,269.45 L1018,269.45" stroke="#0072BD" stroke-width="8.9"/>
<text x="1054.5" y="107.2" font-size="68.4" fill="#000">y<tspan font-size="56" dy="33">d</tspan><tspan dx="-1" dy="-33">(k)</tspan></text>
<text x="1054.5" y="215.2" font-size="68.4" fill="#000">y(k) Original method</text>
<text x="1054.5" y="293.7" font-size="68.4" fill="#000">y(k) Proposed method</text></svg></body></html>
